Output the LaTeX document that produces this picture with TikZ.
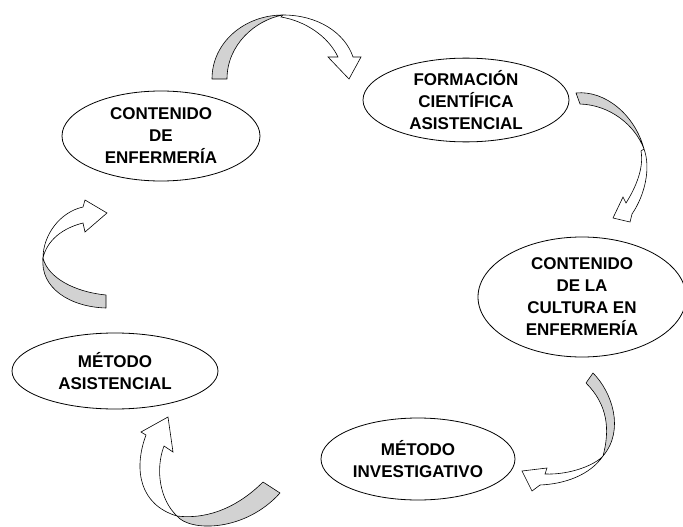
\documentclass[tikz,border=0pt]{standalone}
\usepackage{fontspec}
\setmainfont{Liberation Sans}
\usetikzlibrary{shapes.geometric}
\begin{document}
\begin{tikzpicture}[x=1pt, y=-1pt,
    ciclo/.style={draw, ellipse, line width=0.8pt, inner sep=0pt, align=center,
      font=\fontsize{17}{22}\selectfont\bfseries},
    dorso/.style={draw, fill=gray!35, line width=0.6pt, line join=round},
    frente/.style={draw, fill=white, line width=0.6pt}]
    \clip (0,0) rectangle (683,527);
    % ovalos del ciclo
    \node [ciclo, minimum width=198, minimum height=90] (enfermeria) at (161,136) {CONTENIDO\\DE\\ENFERMERÍA};
    \node [ciclo, minimum width=206, minimum height=76] (formacion) at (466,100) {FORMACIÓN\\CIENTÍFICA\\ASISTENCIAL};
    \node [ciclo, minimum width=208, minimum height=120] (cultura) at (582,297) {CONTENIDO\\DE LA\\CULTURA EN\\ENFERMERÍA};
    \node [ciclo, minimum width=194, minimum height=82] (investigativo) at (418,459) {MÉTODO\\INVESTIGATIVO};
    \node [ciclo, minimum width=206, minimum height=76] (asistencial) at (115,371) {MÉTODO\\ASISTENCIAL};
    % flecha arriba
    \draw [dorso] (212,79) .. controls (212,42) and (245,15) .. (283,15) .. controls (255,20) and (227,45) .. (227,79) -- cycle;
    \draw [frente] (283,15) .. controls (318,15) and (345,33) .. (353,57) -- (361,57) -- (349,79) -- (328,57) -- (338,57) .. controls (328,36) and (305,21) .. (281,17) -- cycle;
    % flecha derecha
    \draw [dorso] (576,93) .. controls (605,90) and (635,115) .. (644,149) .. controls (635,125) and (610,105) .. (580,104) -- cycle;
    \draw [frente] (644,149) .. controls (651,168) and (645,195) .. (632,214) -- (630,222) -- (613,218) -- (623,197) -- (626,203) .. controls (636,187) and (644,168) .. (641,151) -- cycle;
    % flecha abajo derecha
    \draw [dorso] (593,373) .. controls (612,392) and (625,430) .. (603,456) .. controls (610,430) and (608,405) .. (586,383) -- cycle;
    \draw [frente] (603,456) .. controls (590,475) and (565,484) .. (540,485) -- (532,491) -- (522,471) -- (547,468) -- (545,474) .. controls (570,475) and (595,465) .. (603,456) -- cycle;
    % flecha abajo
    \draw [dorso] (263,482) .. controls (240,505) and (210,520) .. (177,516) .. controls (190,532) and (245,532) .. (280,493) -- cycle;
    \draw [frente] (177,516) .. controls (140,505) and (133,470) .. (146,435) -- (141,432) -- (168,417) -- (173,452) -- (164,446) .. controls (155,470) and (160,500) .. (177,516) -- cycle;
    % flecha izquierda
    \draw [dorso] (106,295) .. controls (75,292) and (48,278) .. (43,258) .. controls (40,288) and (70,307) .. (106,308) -- cycle;
    \draw [frente] (43,258) .. controls (43,235) and (60,212) .. (83,207) -- (85,200) -- (107,213) -- (85,232) -- (83,223) .. controls (63,228) and (47,240) .. (43,258) -- cycle;
\end{tikzpicture}
\end{document}
